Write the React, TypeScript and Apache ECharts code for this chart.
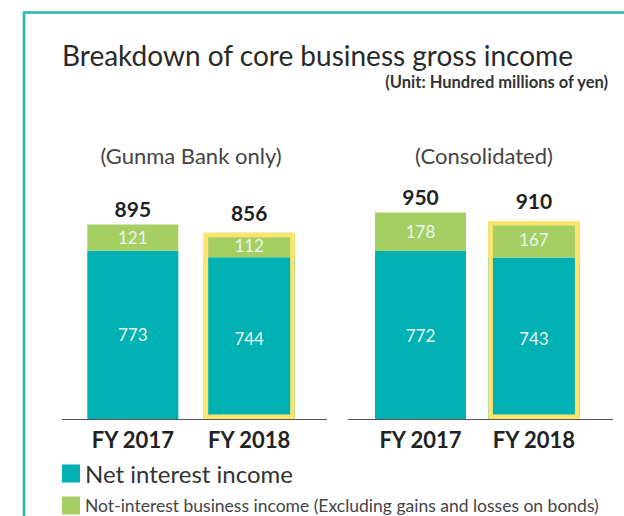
import React, { useEffect, useRef } from "react";
import * as echarts from "echarts";

const categories = ["FY 2017", "FY 2018"];
const groupTitles = ["(Gunma Bank only)", "(Consolidated)"];
const netInterestBank = [773, 744];
const nonInterestBank = [121, 112];
const totalBank = [895, 856];
const netInterestCons = [772, 743];
const nonInterestCons = [178, 167];
const totalCons = [950, 910];
const highlighted = [false, true];
const seriesNames = [
  "Net interest income",
  "Not-interest business income (Excluding gains and losses on bonds)",
];

const FONT = "Lato, 'Noto Sans', sans-serif";
const TEAL = "#00b1b4";
const GREEN = "#a5cf63";
const YELLOW = "#fde46c";
const INNER_LABEL = "#e9f5ee";

function groupSeries(gi: number, net: number[], non: number[], total: number[]) {
  const innerLabel = {
    show: true,
    position: "inside",
    color: INNER_LABEL,
    fontSize: 17,
    fontFamily: FONT,
  };
  return [
    {
      name: seriesNames[0],
      type: "bar",
      stack: "s" + gi,
      xAxisIndex: gi,
      yAxisIndex: gi,
      barWidth: 91,
      barGap: "-100%",
      itemStyle: { color: TEAL },
      label: innerLabel,
      data: net,
    },
    {
      name: seriesNames[1],
      type: "bar",
      stack: "s" + gi,
      xAxisIndex: gi,
      yAxisIndex: gi,
      barWidth: 91,
      barGap: "-100%",
      itemStyle: { color: GREEN },
      label: innerLabel,
      data: non,
    },
    {
      name: "total" + gi,
      type: "bar",
      xAxisIndex: gi,
      yAxisIndex: gi,
      barWidth: 91,
      barGap: "-100%",
      z: 5,
      data: total.map((v, i) => ({
        value: v,
        itemStyle: highlighted[i]
          ? { color: "rgba(0,0,0,0)", borderColor: YELLOW, borderWidth: 4.5 }
          : { color: "rgba(0,0,0,0)", borderWidth: 0 },
        label: { distance: highlighted[i] ? 10 : 5 },
      })),
      label: {
        show: true,
        position: "top",
        color: "#222",
        fontSize: 21,
        fontWeight: "bold",
        fontFamily: FONT,
      },
    },
  ];
}

export default function App() {
  const ref = useRef<HTMLDivElement>(null);
  useEffect(() => {
    if (!ref.current) return;
    const chart = echarts.init(ref.current, null, { renderer: "svg" });
    const grids = [
      { left: 74.6, width: 232.8, top: 201.5, height: 217.5 },
      { left: 363.8, width: 226.8, top: 201.5, height: 217.5 },
    ];
    const xAxes = grids.map((_, gi) => ({
      type: "category",
      gridIndex: gi,
      data: categories,
      axisLine: { show: true, lineStyle: { color: "#555", width: 1 } },
      axisTick: { show: false },
      axisLabel: {
        color: "#222",
        fontSize: 22,
        fontWeight: "bold",
        fontFamily: FONT,
        margin: 9,
      },
    }));
    const yAxes = grids.map((_, gi) => ({
      type: "value",
      gridIndex: gi,
      min: 0,
      max: 1000,
      show: false,
      splitLine: { show: false },
    }));
    const subtitle = (text: string, x: number) => ({
      type: "text",
      style: {
        text,
        x,
        y: 155,
        textAlign: "center",
        textVerticalAlign: "middle",
        fontSize: 22,
        fill: "#444",
        fontFamily: FONT,
      },
    });
    chart.setOption({
      animation: false,
      backgroundColor: "#ffffff",
      textStyle: { fontFamily: FONT },
      title: {
        text: "Breakdown of core business gross income",
        left: 62,
        top: 40.5,
        padding: 0,
        textStyle: { fontSize: 28, fontWeight: "normal", color: "#2a2a2a", fontFamily: FONT },
      },
      grid: grids,
      xAxis: xAxes,
      yAxis: yAxes,
      legend: [
        {
          left: 62,
          top: 461.5,
          padding: 0,
          itemWidth: 18,
          itemHeight: 18,
          icon: "rect",
          data: [seriesNames[0]],
          textStyle: { fontSize: 24, color: "#333", fontFamily: FONT },
          selectedMode: false,
        },
        {
          left: 62,
          top: 496.5,
          padding: 0,
          itemWidth: 18,
          itemHeight: 18,
          icon: "rect",
          data: [seriesNames[1]],
          textStyle: { fontSize: 17.5, color: "#444", fontFamily: FONT },
          selectedMode: false,
        },
      ],
      graphic: [
        {
          type: "polyline",
          shape: { points: [[24, 516], [24, 12.5], [624, 12.5]] },
          style: { stroke: "#25b6b9", lineWidth: 2.5, fill: null },
        },
        {
          type: "line",
          shape: { x1: 62, y1: 419.5, x2: 327, y2: 419.5 },
          style: { stroke: "#555", lineWidth: 1 },
        },
        {
          type: "line",
          shape: { x1: 348, y1: 419.5, x2: 613, y2: 419.5 },
          style: { stroke: "#555", lineWidth: 1 },
        },
        {
          type: "text",
          style: {
            text: "(Unit: Hundred millions of yen)",
            x: 608,
            y: 82,
            textAlign: "right",
            textVerticalAlign: "middle",
            fontSize: 16.5,
            fontWeight: "bold",
            fill: "#333",
            fontFamily: FONT,
          },
        },
        subtitle(groupTitles[0], 191),
        subtitle(groupTitles[1], 484),
      ],
      series: [
        ...groupSeries(0, netInterestBank, nonInterestBank, totalBank),
        ...groupSeries(1, netInterestCons, nonInterestCons, totalCons),
      ],
    });
    return () => chart.dispose();
  }, []);
  return (
    <div
      ref={ref}
      style={{ position: "fixed", left: 0, top: 0, width: 624, height: 516 }}
    />
  );
}
